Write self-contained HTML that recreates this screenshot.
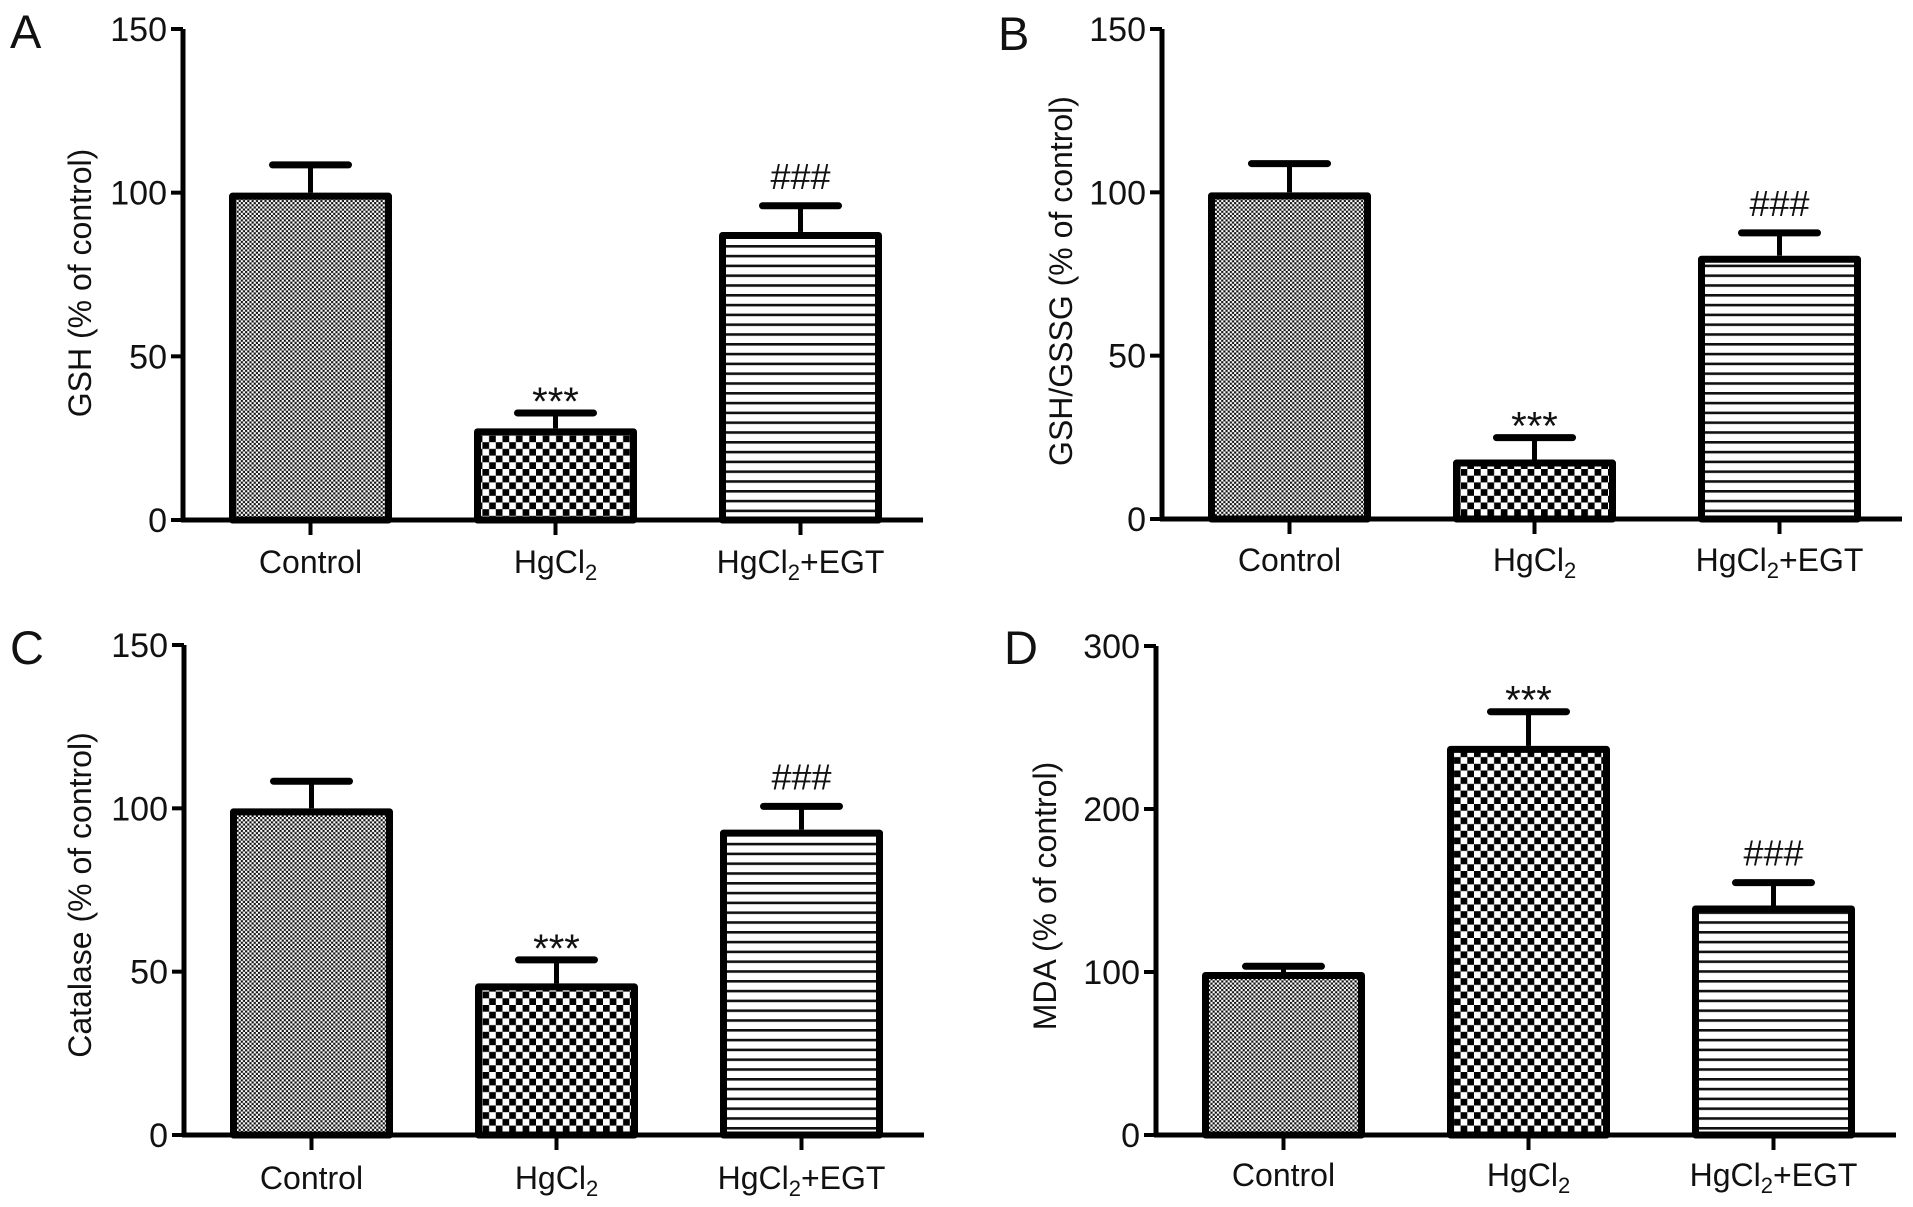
<!DOCTYPE html>
<html><head><meta charset="utf-8"><title>Antioxidant markers</title>
<style>
html,body{margin:0;padding:0;background:#fff;}
svg{display:block;font-family:"Liberation Sans",Arial,sans-serif;}
</style></head>
<body>
<svg id="fig" width="1913" height="1207" viewBox="0 0 1913 1207" xmlns="http://www.w3.org/2000/svg">
<defs>
<pattern id="patCtrl" patternUnits="userSpaceOnUse" width="4.3" height="4.3">
<rect width="4.3" height="4.3" fill="#fff"/><rect width="2.15" height="2.15" fill="#111"/><rect x="2.15" y="2.15" width="2.15" height="2.15" fill="#111"/>
</pattern>
<pattern id="patHg" patternUnits="userSpaceOnUse" width="13.4" height="13.4">
<rect width="13.4" height="13.4" fill="#fff"/><rect width="6.7" height="6.7" fill="#000"/><rect x="6.7" y="6.7" width="6.7" height="6.7" fill="#000"/>
</pattern>
<pattern id="patEgt" patternUnits="userSpaceOnUse" width="10" height="9.8">
<rect width="10" height="9.8" fill="#fff"/><rect y="0" width="10" height="2.6" fill="#111"/>
</pattern>
</defs>
</svg>
<script>
const categories = ["Control", "HgCl2", "HgCl2+EGT"];
const gshValues = [100, 28, 88];
const gshErrors = [8.5, 4.7, 8];
const ratioValues = [100, 18.2, 80.6];
const ratioErrors = [8.8, 6.7, 7];
const catalaseValues = [100, 46.4, 93.5];
const catalaseErrors = [8.3, 7.2, 7.1];
const mdaValues = [100, 238.7, 140.8];
const mdaErrors = [3.5, 21, 14];
const ticks150 = [0, 50, 100, 150];
const ticks300 = [0, 100, 200, 300];
const signifMarks = [["", "***", "###"], ["", "***", "###"], ["", "***", "###"], ["", "***", "###"]];

const NS = "http://www.w3.org/2000/svg";
const svg = document.getElementById("fig");
function mk(tag, attrs, parent) {
  const e = document.createElementNS(NS, tag);
  for (const k in attrs) e.setAttribute(k, attrs[k]);
  (parent || svg).appendChild(e);
  return e;
}
const patterns = ["url(#patCtrl)", "url(#patHg)", "url(#patEgt)"];
const panels = [
  {id: "a", letter: "A", lx: 10, ly: 48, ax: 183, yTop: 29, yBot: 520, max: 150, ticks: ticks150, vals: gshValues, errs: gshErrors, title: "GSH (% of control)", tx: 80, ty: 283, labY: 573},
  {id: "b", letter: "B", lx: 998, ly: 50, ax: 1162, yTop: 29, yBot: 519, max: 150, ticks: ticks150, vals: ratioValues, errs: ratioErrors, title: "GSH/GSSG (% of control)", tx: 1061, ty: 281, labY: 571},
  {id: "c", letter: "C", lx: 10, ly: 664, ax: 184, yTop: 645, yBot: 1135, max: 150, ticks: ticks150, vals: catalaseValues, errs: catalaseErrors, title: "Catalase (% of control)", tx: 80, ty: 895, labY: 1189},
  {id: "d", letter: "D", lx: 1004, ly: 664, ax: 1156, yTop: 646, yBot: 1135, max: 300, ticks: ticks300, vals: mdaValues, errs: mdaErrors, title: "MDA (% of control)", tx: 1045, ty: 896, labY: 1186}
];
panels.forEach((p, pi) => {
  const g = mk("g", {});
  
  
  const y = v => p.yBot - (v / p.max) * (p.yBot - p.yTop);
  const barX = i => p.ax + 46 + i * 245;
  const bw = 163;
  const L = mk("text", {x: p.lx, y: p.ly, "font-size": 47, fill: "#111"}, g);
  L.textContent = p.letter;
  
  
  // bars
  p.vals.forEach((v, i) => {
    const cx = barX(i) + bw / 2;
    const top = y(v + p.errs[i]);
    const stem = mk("line", {x1: cx, x2: cx, y1: y(v), y2: top, stroke: "#000", "stroke-width": 5}, g);
    
    
    const cap = mk("line", {x1: cx - 38, x2: cx + 38, y1: top, y2: top, stroke: "#000", "stroke-width": 7, "stroke-linecap": "round"}, g);
    
    
    const r = mk("rect", {x: barX(i) + 3.5, y: y(v) + 3.5, width: bw - 7, height: p.yBot - y(v) - 3.5, fill: patterns[i], stroke: "#000", "stroke-width": 7, "stroke-linejoin": "round"}, g);
    
    
    const m = signifMarks[pi][i];
    if (m) {
      const star = m === "***";
      const t = mk("text", {x: cx, y: star ? top - 21 + 23 : top - 29 + 12, "font-size": star ? 40 : 36, "text-anchor": "middle", fill: "#111"}, g);
      t.textContent = m;
      
      
    }
    const tk = mk("line", {x1: cx, x2: cx, y1: p.yBot, y2: p.yBot + 15, stroke: "#000", "stroke-width": 4}, g);
    
    
    const lab = mk("text", {x: cx, y: p.labY, "font-size": 32, "text-anchor": "middle", fill: "#111"}, g);
    const c = categories[i];
    if (c.startsWith("HgCl2")) {
      lab.appendChild(document.createTextNode("HgCl"));
      const s = mk("tspan", {"font-size": 22, dy: 7}, lab); s.textContent = "2";
      if (c.length > 5) { const r2 = mk("tspan", {dy: -7}, lab); r2.textContent = c.slice(5); }
    } else lab.textContent = c;
    
    
  });
  // axes
  const ya = mk("line", {x1: p.ax, x2: p.ax, y1: p.yTop, y2: p.yBot + 2, stroke: "#000", "stroke-width": 5}, g);
  
  
  const xa = mk("line", {x1: p.ax - 2, x2: p.ax + 740, y1: p.yBot, y2: p.yBot, stroke: "#000", "stroke-width": 5}, g);
  
  
  p.ticks.forEach(t => {
    const tl = mk("line", {x1: p.ax - 12, x2: p.ax, y1: y(t), y2: y(t), stroke: "#000", "stroke-width": 4}, g);
    
    
    const tt = mk("text", {x: p.ax - 16, y: y(t) + 12, "font-size": 34, "text-anchor": "end", fill: "#111"}, g);
    tt.textContent = t;
    
    
  });
  const ti = mk("text", {x: p.tx + 11, y: p.ty, "font-size": 32, "text-anchor": "middle", fill: "#111", transform: "rotate(-90 " + (p.tx + 11) + " " + p.ty + ")"}, g);
  ti.textContent = p.title;
  
  
});
</script>
</body></html>
